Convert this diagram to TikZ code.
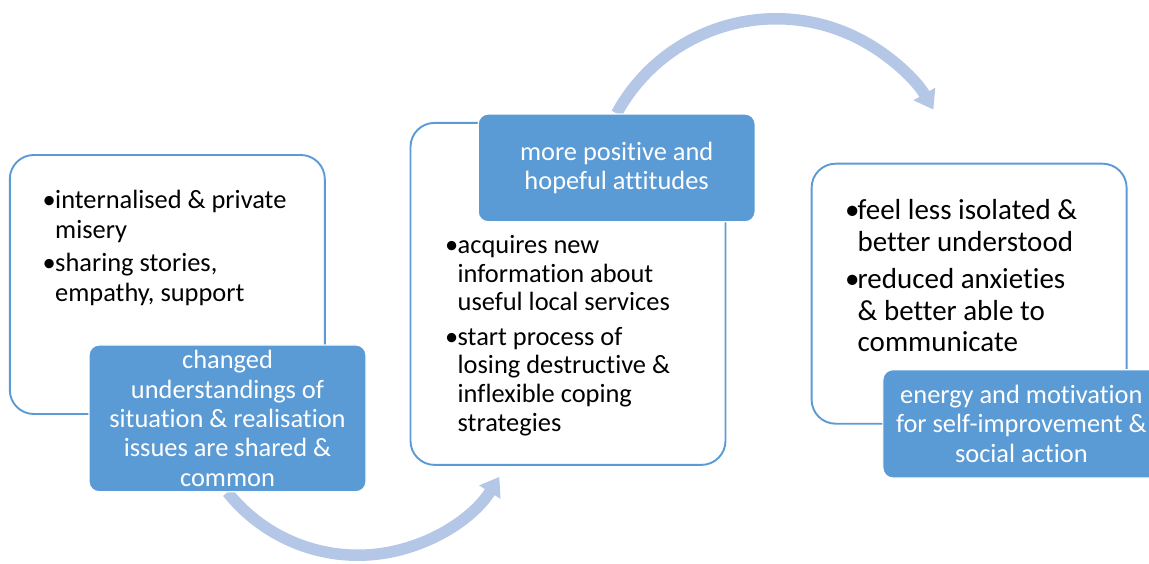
\documentclass[tikz,border=0pt]{standalone}
\usepackage{fontspec}
\setmainfont{Carlito}[Ligatures=NoCommon]
\usetikzlibrary{positioning,backgrounds,arrows.meta}
\definecolor{boxblue}{HTML}{5B9BD5}
\definecolor{arrowblue}{HTML}{B4C7E7}
\newcommand{\bul}{\makebox[12.5pt][l]{\textbullet}}

\begin{document}
\begin{tikzpicture}[x=1pt,y=1pt,on grid,
  box/.style={draw=boxblue,line width=1.9pt,fill=white,rounded corners=24pt,minimum width=315pt,inner sep=0pt},
  lab/.style={fill=boxblue,draw=white,line width=1.2pt,rounded corners=10pt,minimum width=277pt,inner sep=0pt,
    text=white,align=center,font=\fontsize{26.4}{29.3}\selectfont},
  list/.style={anchor=base west,inner sep=0pt},
  flow/.style={draw=arrowblue,line width=11.5pt,-{Triangle[width=24pt,length=18pt]}}]
   \clip (0,0) rectangle (1149,563);
   % the three stages
   \node[box,minimum height=259pt] (b1) at (167.3,278.5) {};
   \node[box,minimum height=342pt,below right=9.4pt and 400.7pt of b1] (b2) {};
   \node[box,minimum height=260pt,above right=0.2pt and 401.1pt of b2] (b3) {};
   % bullet points
   \node[list,font=\fontsize{26.4}{30}\selectfont] (t1) at (42.5,354.7)
     {\begin{tabular}[t]{@{}l@{}l@{}}\bul&internalised \& private\\&misery\\[3.7pt]
      \bul&sharing stories,\\&empathy, support\end{tabular}};
   \node[list,font=\fontsize{26.4}{28.8}\selectfont] (t2) at (445,309.7)
     {\begin{tabular}[t]{@{}l@{}l@{}}\bul&acquires new\\&information about\\&useful local services\\[5.5pt]
      \bul&start process of\\&losing destructive \&\\&inflexible coping\\&strategies\end{tabular}};
   \node[list,font=\fontsize{29}{31.7}\selectfont] (t3) at (845,343)
     {\begin{tabular}[t]{@{}l@{}l@{}}\bul&feel less isolated \&\\&better understood\\[5pt]
      \bul&reduced anxieties\\&\& better able to\\&communicate\end{tabular}};
   % outcome labels
   \node[lab,minimum height=146.7pt,below right=133.85pt and 60.2pt of b1] (l1)
     {changed\\understandings of\\situation \& realisation\\issues are shared \&\\common};
   \node[lab,minimum height=107.7pt,above right=126pt and 48.65pt of b2] (l2)
     {more positive and\\hopeful attitudes};
   \node[lab,minimum height=108.3pt,below right=130.15pt and 52.25pt of b3] (l3)
     {energy and motivation\\for self-improvement \&\\social action};
   \begin{scope}[on background layer]
    \draw[flow] (l1.south) arc[start angle=218.5,end angle=328,radius=166.7];
    \draw[flow] (l2.north) arc[start angle=151.4,end angle=30,radius=181.6];
   \end{scope}
\end{tikzpicture}
\end{document}
